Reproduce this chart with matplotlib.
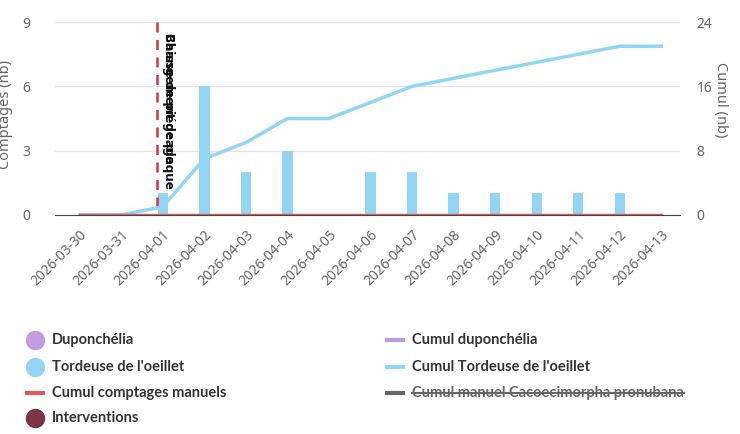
import numpy as np
import matplotlib
matplotlib.use('Agg')
import matplotlib.pyplot as plt
from matplotlib.lines import Line2D

plt.rcParams['font.family'] = ['Noto Sans', 'DejaVu Sans']

# données
dates = ['2026-03-30', '2026-03-31', '2026-04-01', '2026-04-02', '2026-04-03',
         '2026-04-04', '2026-04-05', '2026-04-06', '2026-04-07', '2026-04-08',
         '2026-04-09', '2026-04-10', '2026-04-11', '2026-04-12', '2026-04-13']
tordeuse = [0, 0, 1, 6, 2, 3, 0, 2, 2, 1, 1, 1, 1, 1, 0]
cumul_tordeuse = [0, 0, 1, 7, 9, 12, 12, 14, 16, 17, 18, 19, 20, 21, 21]
cumul_manuel = [0] * 15
intervention_date = '2026-04-01'
intervention_labels = ['Changement de plaque', 'Baisse de piégeage']

bleu = '#93d5f5'
rouge = '#e05a5a'
lavande = '#c39be0'
bordeaux = '#7b3545'
gris_txt = '#666666'

fig = plt.figure(figsize=(7.4, 4.34), dpi=100)
ax = fig.add_axes([0.074, 0.505, 0.845, 0.444])
ax2 = ax.twinx()

x = np.arange(len(dates))
ax.bar(x, tordeuse, width=0.25, color=bleu, zorder=2)
ax2.plot(x, cumul_tordeuse, color=bleu, lw=2.5, zorder=3)
ax2.plot(x, cumul_manuel, color=rouge, lw=2.5, zorder=4)

# intervention
xi = dates.index(intervention_date) - 0.13
ax.axvline(xi, ymin=0.04, ymax=1.0, color='#d9343b', lw=1.8, ls=(0, (4, 3)), zorder=5)
for lab in intervention_labels:
    ax.text(xi + 0.12, 8.5, lab, rotation=270, ha='left', va='top',
            fontsize=9.5, fontweight='bold', color='#111111', zorder=6,
            family=['DejaVu Sans'], fontstretch='condensed')

ax.set_xlim(-0.6, 14.45)
ax.set_ylim(0, 9)
ax2.set_ylim(0, 24)
ax.set_yticks([0, 3, 6, 9])
ax2.set_yticks([0, 8, 16, 24])
ax.set_xticks(x)
ax.set_xticklabels(dates, rotation=45, ha='right', rotation_mode='anchor')

for a in (ax, ax2):
    for s in a.spines.values():
        s.set_visible(False)
    a.tick_params(length=0, colors=gris_txt, labelsize=10)
ax.spines['bottom'].set_visible(True)
ax.spines['bottom'].set_color('#444444')
ax.tick_params(axis='y', pad=18)
ax2.tick_params(axis='y', pad=12)
ax.tick_params(axis='x', pad=9)
ax.grid(axis='y', color='#e3e3e3', lw=0.9, zorder=0)
ax.set_axisbelow(True)
ax.set_ylabel('Comptages (nb)', color=gris_txt, fontsize=10.5, va='center')
ax.yaxis.set_label_coords(-0.079, 0.52)
ax2.set_ylabel('Cumul (nb)', color=gris_txt, fontsize=10.5, rotation=270, va='center')
ax2.yaxis.set_label_coords(1.064, 0.6)

# légende manuelle
legende = [
    ('Duponchélia', 'o', lavande, 35, 340),
    ('Tordeuse de l\'oeillet', 'o', bleu, 35, 367),
    ('Cumul comptages manuels', '-', rouge, 35, 393),
    ('Interventions', 'o', bordeaux, 35, 418),
    ('Cumul duponchélia', '-', lavande, 395, 340),
    ('Cumul Tordeuse de l\'oeillet', '-', bleu, 395, 367),
    ('Cumul manuel Cacoecimorpha pronubana', '-', '#666666', 395, 393),
]
W, H = 740, 434
for txt, m, c, px, py in legende:
    fx, fy = px / W, 1 - py / H
    if m == 'o':
        fig.add_artist(Line2D([fx], [fy], marker='o', ms=13, color=c, ls='none',
                              transform=fig.transFigure))
    else:
        fig.add_artist(Line2D([fx - 8 / W, fx + 8 / W], [fy, fy], color=c, lw=3,
                              transform=fig.transFigure))
    t = fig.text(fx + 17 / W, fy, txt, ha='left', va='center', fontsize=10.5,
                 fontweight='bold', color='#333333', family=['Lato', 'DejaVu Sans'])
    if txt.startswith('Cumul manuel'):
        fig.canvas.draw()
        bb = t.get_window_extent()
        fig.add_artist(Line2D([bb.x0 / W, bb.x1 / W], [fy, fy], color='#666666', lw=1.5,
                              transform=fig.transFigure))
        t.set_color('#666666')

fig.savefig('out.png', dpi=100)
